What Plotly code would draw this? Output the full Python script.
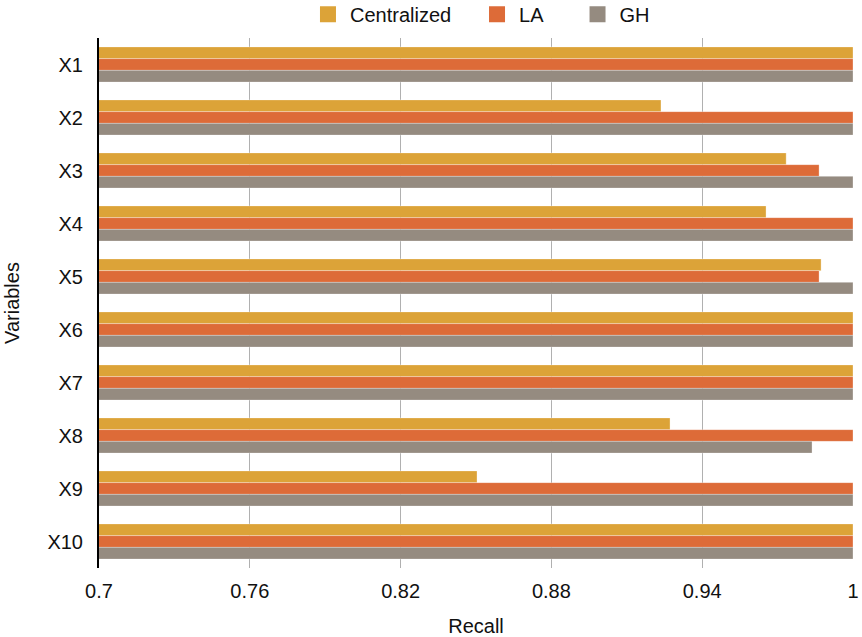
import plotly.graph_objects as go

variables = ["X1", "X2", "X3", "X4", "X5", "X6", "X7", "X8", "X9", "X10"]
centralized = [1.0, 0.9236, 0.9734, 0.9654, 0.9873, 1.0, 1.0, 0.9272, 0.8504, 1.0]
la = [1.0, 1.0, 0.9865, 1.0, 0.9865, 1.0, 1.0, 1.0, 1.0, 1.0]
gh = [1.0, 1.0, 1.0, 1.0, 1.0, 1.0, 1.0, 0.9837, 1.0, 1.0]

series = [
    ("Centralized", centralized, "#DCA338"),
    ("LA", la, "#DD6B38"),
    ("GH", gh, "#958B80"),
]
legend_ids = ["legend", "legend2", "legend3"]
legend_x = [0.2745, 0.4987, 0.632]

fig = go.Figure()
for name, vals, color in series:
    fig.add_trace(go.Bar(
        y=variables, x=vals, name=name, orientation="h", showlegend=False,
        marker=dict(color=color, line=dict(color="rgba(255,255,255,0.3)", width=1)),
    ))
# legend-only entries with bigger square swatches
for (name, vals, color), lg in zip(series, legend_ids):
    fig.add_trace(go.Scatter(
        x=[None], y=[None], mode="markers", name=name, legend=lg,
        marker=dict(symbol="square", size=20, color=color),
    ))

legend_style = dict(orientation="h", xanchor="left", y=1.045, yanchor="middle",
                    font=dict(size=20), itemwidth=34, bgcolor="rgba(0,0,0,0)")
fig.update_layout(
    barmode="group",
    bargap=0.335,
    bargroupgap=0,
    width=862, height=637,
    margin=dict(l=99, r=9, t=38, b=69, autoexpand=False),
    plot_bgcolor="white",
    paper_bgcolor="white",
    font=dict(family="Liberation Sans, Arial, sans-serif", size=20, color="#111111"),
    legend=dict(x=legend_x[0], **legend_style),
    legend2=dict(x=legend_x[1], **legend_style),
    legend3=dict(x=legend_x[2], **legend_style),
    showlegend=True,
)
fig.update_xaxes(
    range=[0.7, 1.0], tickvals=[0.7, 0.76, 0.82, 0.88, 0.94, 1.0],
    ticktext=["0.7", "0.76", "0.82", "0.88", "0.94", "1"],
    showgrid=True, gridcolor="#b0b0b0", gridwidth=1, zeroline=False,
    showline=False, ticks="outside", ticklen=5, tickcolor="rgba(0,0,0,0)",
    title=dict(text="Recall", font=dict(size=20), standoff=17),
)
fig.update_yaxes(
    categoryorder="array", categoryarray=variables, autorange="reversed",
    showline=True, linecolor="black", linewidth=2, showgrid=False,
    ticks="outside", ticklen=10, tickcolor="rgba(0,0,0,0)",
    title=dict(text="Variables", font=dict(size=20), standoff=22),
)

fig.write_html("out.html", config={"displayModeBar": False},
               post_script="document.body.style.margin='0';")
